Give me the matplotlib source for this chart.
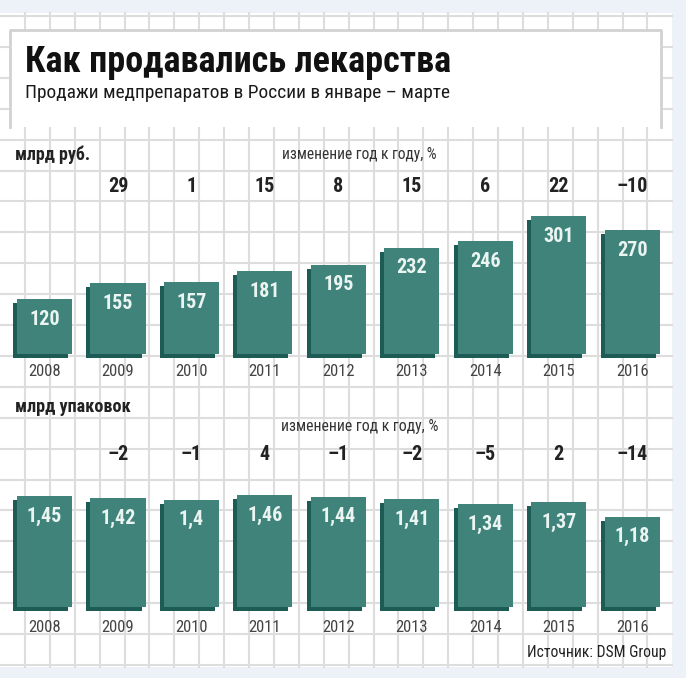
import matplotlib
matplotlib.use('Agg')
import matplotlib.pyplot as plt
import matplotlib.transforms as mtransforms
from matplotlib import font_manager
from matplotlib.patches import Rectangle

years = ['2008', '2009', '2010', '2011', '2012', '2013', '2014', '2015', '2016']
rub = [120, 155, 157, 181, 195, 232, 246, 301, 270]
rub_change = ['', '29', '1', '15', '8', '15', '6', '22', '\u201310']
packs = [1.45, 1.42, 1.40, 1.46, 1.44, 1.41, 1.34, 1.37, 1.18]
packs_labels = ['1,45', '1,42', '1,4', '1,46', '1,44', '1,41', '1,34', '1,37', '1,18']
packs_change = ['', '\u20132', '\u20131', '4', '\u20131', '\u20132', '\u20135', '2', '\u201314']

names = set(f.name for f in font_manager.fontManager.ttflist)
main_font = 'DejaVu Sans'
for cand in ['Roboto Condensed', 'Liberation Sans Narrow', 'Roboto']:
    if cand in names:
        main_font = cand
        break
plt.rcParams['font.family'] = [main_font, 'DejaVu Sans']

W, H = 686, 678
face = '#3f837b'
side = '#1d5b55'
gridc = '#dddddd'

fig = plt.figure(figsize=(W / 100, H / 100), dpi=100, facecolor='#edf2f9')
renderer = fig.canvas.get_renderer()


def fit(t, width):
    # shrink/grow text so that it spans the given pixel width
    w = t.get_window_extent(renderer).width
    t.set_fontsize(t.get_fontsize() * width / w)


# background: panel, grid, title box (pixel coords)
bg = fig.add_axes([0, 0, 1, 1])
bg.set_xlim(0, W)
bg.set_ylim(H, 0)
bg.axis('off')
bg.add_patch(Rectangle((0, 13), 672, 654, facecolor='white', edgecolor='none'))
for k in range(1, 27):
    bg.plot([24.9 * k, 24.9 * k], [13, 667], color=gridc, lw=1.5, zorder=1)
for k in range(0, 22):
    y = 16 + 30.9 * k
    bg.plot([0, 672], [y, y], color=gridc, lw=1.5, zorder=1)
bg.add_patch(Rectangle((10, 30), 651, 97, facecolor='white', edgecolor='none', zorder=2))
bg.plot([10, 10, 661, 661], [127, 30, 30, 127], color='#d2d2d2', lw=2, zorder=3)

t = bg.text(25, 62, 'Как продавались лекарства', fontsize=25, fontweight='bold',
            color='#111111', va='center', ha='left', zorder=4)
fit(t, 426)
t = bg.text(25, 93, 'Продажи медпрепаратов в России в январе \u2013 марте', fontsize=11.5,
            color='#1a1a1a', va='center', ha='left', zorder=4)
fit(t, 425)
t = bg.text(15, 155, 'млрд руб.', fontsize=11, fontweight='bold', color='#222222',
            va='center', ha='left', zorder=4)
fit(t, 75)
t = bg.text(282, 155, 'изменение год к году, %', fontsize=9.5, color='#333333',
            va='center', ha='left', zorder=4)
fit(t, 156)
t = bg.text(15, 407, 'млрд упаковок', fontsize=11, fontweight='bold', color='#222222',
            va='center', ha='left', zorder=4)
fit(t, 115)
t = bg.text(281, 427, 'изменение год к году, %', fontsize=9.5, color='#333333',
            va='center', ha='left', zorder=4)
fit(t, 158)
t = bg.text(666, 652, 'Источник: DSM Group', fontsize=10, color='#222222',
            va='center', ha='right', zorder=4)
fit(t, 140)


def px_axes(x0, x1, y_top, y_bot):
    return fig.add_axes([x0 / W, 1 - y_bot / H, (x1 - x0) / W, (y_bot - y_top) / H])


def draw_bars(ax, vals, labels, changes, change_y, year_y):
    x = list(range(len(vals)))
    off = mtransforms.ScaledTranslation(-4 / 100, -4 / 100, fig.dpi_scale_trans)
    back = ax.bar(x, vals, width=0.75, color=side, zorder=2)
    for p in back:
        p.set_transform(ax.transData + off)
        p.set_clip_on(False)
    front = ax.bar(x, vals, width=0.75, color=face, zorder=3)
    for p in front:
        p.set_clip_on(False)
    for i, v in enumerate(vals):
        ax.annotate(labels[i], (i, v), xytext=(0, -14.5), textcoords='offset points',
                    ha='center', va='center', fontsize=14.5, fontweight='bold',
                    color='#eaf5f2', zorder=5)
    tr = mtransforms.blended_transform_factory(ax.transData, bg.transData)
    for i in x:
        ax.text(i, change_y, changes[i], transform=tr, ha='center', va='center',
                fontsize=14.5, fontweight='bold', color='#222222')
        ax.text(i, year_y, years[i], transform=tr, ha='center', va='center',
                fontsize=12, color='#444444')
    ax.set_xlim(-0.5, len(vals) - 0.5)
    ax.axis('off')


ax1 = px_axes(7.8, 668.8, 140, 354)
ax1.set_ylim(0, 214 / 0.4585)
draw_bars(ax1, rub, [str(v) for v in rub], rub_change, 187, 371)

ax2 = px_axes(7.8, 668.8, 440, 607)
ax2.set_ylim(0, 167 / 76.6)
draw_bars(ax2, packs, packs_labels, packs_change, 455, 627)

fig.savefig('out.png', dpi=100, facecolor=fig.get_facecolor())
